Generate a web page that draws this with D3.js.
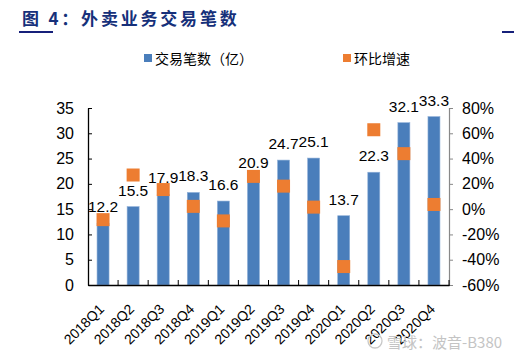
<!DOCTYPE html>
<html><head><meta charset="utf-8">
<script src="https://cdn.jsdelivr.net/npm/d3@7"></script>
<style>body{margin:0;background:#fff}svg{display:block}</style>
</head><body><svg id="c" width="514" height="358"></svg>
<script>
const categories = ["2018Q1","2018Q2","2018Q3","2018Q4","2019Q1","2019Q2","2019Q3","2019Q4","2020Q1","2020Q2","2020Q3","2020Q4"];
const orders = [12.2,15.5,17.9,18.3,16.6,20.9,24.7,25.1,13.7,22.3,32.1,33.3];
const growth = [-8.3,27.0,15.5,2.2,-9.3,25.9,18.2,1.6,-45.4,62.8,43.9,3.7];
const leftTicks = [0,5,10,15,20,25,30,35];
const rightTicks = [-60,-40,-20,0,20,40,60,80];

const svg = d3.select("#c");
const font = "'Liberation Sans', Arial, sans-serif";
const cjk = "'Noto Sans CJK SC', sans-serif";
const L = 88, R = 449, T = 108, B = 285;
const x = d3.scaleBand().domain(categories).range([L, R]);
const y = d3.scaleLinear().domain([0, 35]).range([B, T]);
const y2 = d3.scaleLinear().domain([-60, 80]).range([B, T]);
const barW = 12, mk = 13;

// title
svg.append("text").attr("x", 22).attr("y", 25).attr("fill", "#16307a")
  .attr("font-family", cjk).attr("font-weight", 700).attr("font-size", 17)
  .attr("letter-spacing", 2.8).text("图 4：外卖业务交易笔数");
svg.append("rect").attr("x", 19).attr("y", 31).attr("width", 34).attr("height", 2).attr("fill", "#16207a");
svg.append("rect").attr("x", 502).attr("y", 31).attr("width", 12).attr("height", 2).attr("fill", "#16207a");

// legend
svg.append("rect").attr("x", 144).attr("y", 54).attr("width", 8).attr("height", 8).attr("fill", "#4a7ebb");
svg.append("text").attr("x", 155).attr("y", 64).attr("font-family", cjk).attr("font-size", 14).attr("fill", "#000").text("交易笔数（亿）");
svg.append("rect").attr("x", 343).attr("y", 54).attr("width", 8).attr("height", 8).attr("fill", "#ed7d31");
svg.append("text").attr("x", 354).attr("y", 64).attr("font-family", cjk).attr("font-size", 14).attr("fill", "#000").text("环比增速");

// bars
svg.append("g").selectAll("rect").data(categories).join("rect")
  .attr("x", d => x(d) + x.bandwidth()/2 - barW/2)
  .attr("width", barW)
  .attr("y", (d,i) => y(orders[i]))
  .attr("height", (d,i) => B - y(orders[i]))
  .attr("fill", "#4a7ebb").attr("stroke", "#8fb0d9").attr("stroke-width", 0.6);

// left axis
const la = svg.append("g").attr("transform", `translate(${L},0)`)
  .call(d3.axisLeft(y).tickValues(leftTicks).tickSize(0).tickPadding(14));
la.select(".domain").attr("stroke", "#000").attr("stroke-width", 1.3);
la.selectAll("text").attr("font-family", font).attr("font-size", 16).attr("fill", "#000");
la.selectAll(".tick").append("line").attr("x1", 0).attr("x2", 4).attr("stroke", "#000");

// right axis
const ra = svg.append("g").attr("transform", `translate(${R},0)`)
  .call(d3.axisRight(y2).tickValues(rightTicks).tickSize(4).tickPadding(9).tickFormat(d => d + "%"));
ra.select(".domain").attr("stroke", "#888").attr("stroke-width", 1.2);
ra.selectAll(".tick line").attr("stroke", "#888");
ra.selectAll("text").attr("font-family", font).attr("font-size", 16).attr("fill", "#000");

// bottom axis
const ba = svg.append("g").attr("transform", `translate(0,${B})`)
  .call(d3.axisBottom(x).tickSize(0).tickFormat(""));
ba.select(".domain").attr("stroke", "#000").attr("stroke-width", 1.6);
const bounds = categories.map((d,i) => x(d)).slice(1).concat([R]);
ba.append("g").selectAll("line").data(bounds).join("line")
  .attr("x1", d => d).attr("x2", d => d).attr("y1", -5).attr("y2", 1).attr("stroke", "#000");
ba.append("g").selectAll("text").data(categories).join("text")
  .attr("transform", d => `translate(${x(d) + x.bandwidth()/2 - 5},${18}) rotate(-45)`)
  .attr("text-anchor", "end").attr("dy", "0.7em")
  .attr("font-family", font).attr("font-size", 14).attr("fill", "#000").text(d => d);

// bar labels
svg.append("g").selectAll("text").data(categories).join("text")
  .attr("x", d => x(d) + x.bandwidth()/2)
  .attr("y", (d,i) => y(orders[i]) - 11)
  .attr("text-anchor", "middle").attr("font-family", font).attr("font-size", 15.5).attr("fill", "#000")
  .text((d,i) => orders[i].toFixed(1));

// markers
svg.append("g").selectAll("rect").data(categories).join("rect")
  .attr("x", d => x(d) + x.bandwidth()/2 - mk/2)
  .attr("y", (d,i) => y2(growth[i]) - mk/2)
  .attr("width", mk).attr("height", mk).attr("fill", "#ed7d31");

// watermark
svg.append("circle").attr("cx", 375).attr("cy", 341).attr("r", 7).attr("fill", "none").attr("stroke", "#c8c8c8").attr("stroke-width", 1.3);
svg.append("text").attr("x", 387).attr("y", 348).attr("font-family", cjk).attr("font-size", 15).attr("fill", "#c4c4c4").text("雪球：波音-B380");
</script></body></html>
